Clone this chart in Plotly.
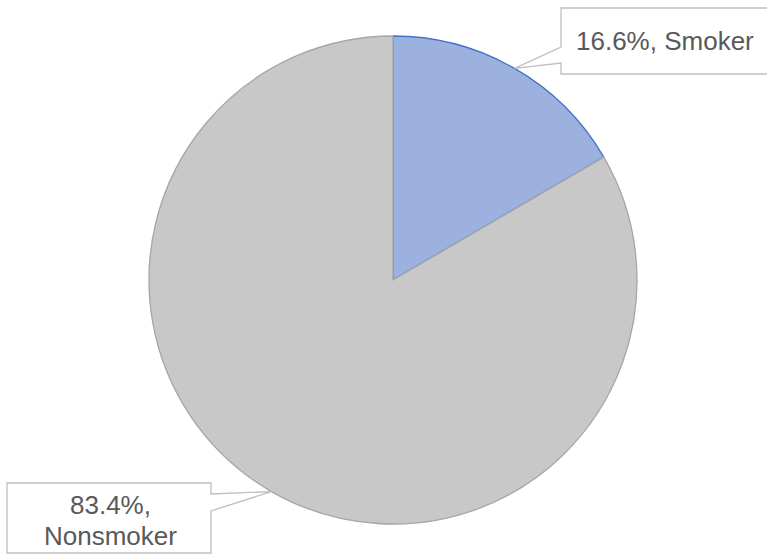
import math
import plotly.graph_objects as go

# Share of respondents by smoking status (percent)
labels = ["Smoker", "Nonsmoker"]
values = [16.6, 83.4]
slice_colors = ["#9db1e1", "#c8c8c8"]
edge_colors = ["#4472c4", "#a6a6a6"]

W, H = 767, 555

# Pie placement in pixels (left, top, right, bottom)
pie_box = (149, 36, 637, 524)
cx = (pie_box[0] + pie_box[2]) / 2
cy = (pie_box[1] + pie_box[3]) / 2
r = (pie_box[2] - pie_box[0]) / 2


def px(x):
    return x / W


def py(y):
    return 1 - y / H


fig = go.Figure(go.Pie(
    labels=labels,
    values=values,
    sort=False,
    direction="clockwise",
    rotation=0,
    textinfo="none",
    hoverinfo="label+percent",
    marker=dict(colors=slice_colors, line=dict(color=edge_colors, width=1.3)),
    domain=dict(x=[px(pie_box[0]), px(pie_box[2])], y=[py(pie_box[3]), py(pie_box[1])]),
    showlegend=False,
))

# Edge point at the middle of each slice, where the callout pointer lands
total = sum(values)
tips = []
cum = 0.0
for v in values:
    theta = 2 * math.pi * (cum + v / 2) / total
    tips.append((cx + r * math.sin(theta), cy - r * math.cos(theta)))
    cum += v

# Callout boxes: (left, top, right, bottom), pointer side and pointer span
boxes = [
    dict(box=(561, 8, 800, 74), side="left", span=(47, 63)),
    dict(box=(7, 483, 211, 553), side="right", span=(494, 511)),
]

shapes = []
for i, b in enumerate(boxes):
    l, t, rr, btm = b["box"]
    p0, p1 = b["span"]
    tx, ty = tips[i]
    if b["side"] == "left":
        pts = [(rr, t), (l, t), (l, p0), (tx, ty), (l, p1), (l, btm), (rr, btm)]
    else:
        pts = [(l, t), (rr, t), (rr, p0), (tx, ty), (rr, p1), (rr, btm), (l, btm)]
    path = "M " + " L ".join(f"{px(x):.5f},{py(y):.5f}" for x, y in pts) + " Z"
    shapes.append(dict(type="path", xref="paper", yref="paper", path=path,
                       line=dict(color="#bfbfbf", width=1.3), fillcolor="white"))

pct = [f"{v:.1f}%" for v in values]
# Label lines: (text, centre x, centre y) in pixels
label_lines = [
    (f"{pct[0]}, {labels[0]}", 665, 41),
    (f"{pct[1]},", 110, 505),
    (labels[1], 110, 536),
]
annotations = [
    dict(x=px(x), y=py(y), xref="paper", yref="paper", text=txt,
         showarrow=False, xanchor="center", yanchor="middle")
    for txt, x, y in label_lines
]

fig.update_layout(
    width=W, height=H,
    margin=dict(l=0, r=0, t=0, b=0),
    paper_bgcolor="white",
    plot_bgcolor="white",
    font=dict(family="Liberation Sans, Arial, sans-serif", size=26, color="#595959"),
    shapes=shapes,
    annotations=annotations,
)

fig.write_html("out.html")
